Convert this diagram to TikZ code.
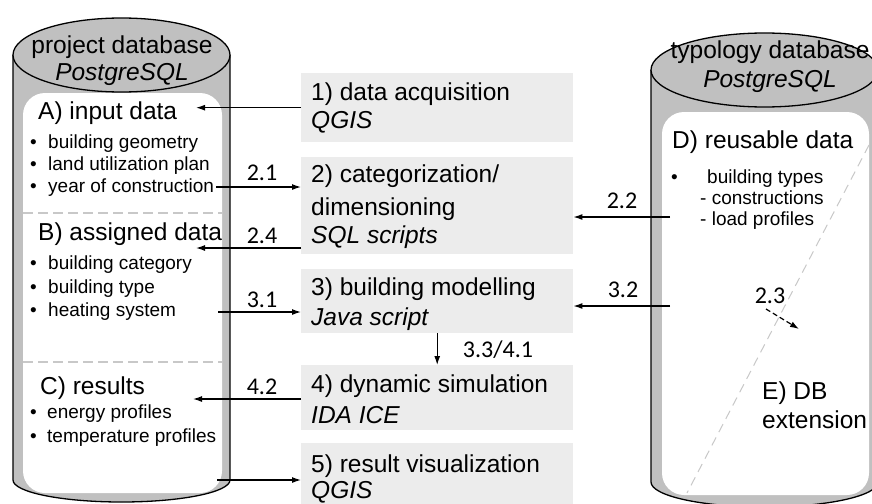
\documentclass[tikz,border=0pt]{standalone}
\usepackage{fontspec}
\setmainfont{Liberation Sans}
\newfontfamily\numfont{Carlito}
\usetikzlibrary{arrows.meta}
\definecolor{dbgray}{RGB}{192,192,192}
\definecolor{boxgray}{RGB}{236,236,236}
\definecolor{sepgray}{RGB}{200,200,200}

\begin{document}
\begin{tikzpicture}[x=1pt,y=-1pt,
  big/.style={font=\fontsize{24.5}{28}\selectfont, inner sep=0pt, anchor=base west},
  bigc/.style={big, anchor=base},
  small/.style={font=\fontsize{19}{22}\selectfont, inner sep=0pt, anchor=base west},
  lbl/.style={font=\numfont\fontsize{24}{28}\selectfont, inner sep=0pt, anchor=base},
  stepbox/.style={fill=boxgray, draw=none, inner sep=0pt, anchor=north west, minimum width=272pt},
  flow/.style={-{Latex[length=9pt,width=6pt]}, line width=1.2pt},
  outline/.style={line width=1.3pt},
  sep/.style={sepgray, line width=1.5pt, dash pattern=on 10pt off 5pt}]
\useasboundingbox (0,0) rectangle (872,503);

% project database cylinder
\fill[dbgray] (13,55) rectangle (230,480);
\fill[dbgray] (121.5,480) ellipse [x radius=108.5, y radius=22];
\draw[outline] (13,55) -- (13,480) .. controls (13,492.15) and (61.6,502) .. (121.5,502)
  .. controls (181.4,502) and (230,492.15) .. (230,480) -- (230,55);
\fill[white, rounded corners=22pt] (23,93) rectangle (222,493);
\filldraw[fill=dbgray, outline] (121.5,55) ellipse [x radius=108.5, y radius=37];
\draw[sep] (23,213) -- (222,213);
\draw[sep] (23,362) -- (222,362);

% typology database cylinder
\fill[dbgray] (651,70) rectangle (878,482);
\fill[dbgray] (764.5,482) ellipse [x radius=113.5, y radius=25];
\draw[outline] (651,70) -- (651,482) .. controls (651,495.8) and (701.8,507) .. (764.5,507)
  .. controls (827.2,507) and (878,495.8) .. (878,482) -- (878,70);
\fill[white, rounded corners=22pt] (662,112) rectangle (869,495);
\filldraw[fill=dbgray, outline] (764.5,70) ellipse [x radius=113.5, y radius=37];
\draw[sepgray, line width=1pt, dash pattern=on 9pt off 6pt] (869,145) -- (687,493);

% process steps
\node[stepbox, minimum height=69pt] (b1) at (301,73) {};
\node[stepbox, minimum height=97pt] (b2) at (301,157) {};
\node[stepbox, minimum height=64pt] (b3) at (301,269) {};
\node[stepbox, minimum height=65pt] (b4) at (301,365) {};
\node[stepbox, minimum height=62pt] (b5) at (301,443) {};

\node[big] (t1a) at (311,100) {1) data acquisition};
\node[big] (t1b) at (311,128) {\itshape QGIS};
\node[big] (t2a) at (311,182) {2) categorization/};
\node[big] (t2b) at (311,215) {dimensioning};
\node[big] (t2c) at (311,243) {\itshape SQL scripts};
\node[big] (t3a) at (311,295) {3) building modelling};
\node[big] (t3b) at (311,325) {\itshape Java script};
\node[big] (t4a) at (311,392) {4) dynamic simulation};
\node[big] (t4b) at (311,423) {\itshape IDA ICE};
\node[big] (t5a) at (311,472) {5) result visualization};
\node[big] (t5b) at (311,498) {\itshape QGIS};

% project database contents
\node[bigc] (pdb) at (122,53) {project database};
\node[bigc] (pdbs) at (122,81) {\itshape PostgreSQL};
\node[big] (hA) at (38,119) {A) input data};
\node[small] (a1) at (30,148) {\makebox[18pt][l]{•}building geometry};
\node[small] (a2) at (30,170) {\makebox[18pt][l]{•}land utilization plan};
\node[small] (a3) at (30,192) {\makebox[18pt][l]{•}year of construction};
\node[big] (hB) at (38,240) {B) assigned data};
\node[small] (bb1) at (30,269) {\makebox[18pt][l]{•}building category};
\node[small] (bb2) at (30,293) {\makebox[18pt][l]{•}building type};
\node[small] (bb3) at (30,316) {\makebox[18pt][l]{•}heating system};
\node[big] (hC) at (40,394) {C) results};
\node[small] (c1) at (30,418) {\makebox[17pt][l]{•}energy profiles};
\node[small] (c2) at (30,442) {\makebox[17pt][l]{•}temperature profiles};

% typology database contents
\node[bigc] (tdb) at (770,59) {typology database};
\node[bigc] (tdbs) at (770,87) {\itshape PostgreSQL};
\node[big] (hD) at (672,148) {D) reusable data};
\node[small] (d1) at (671,183) {\makebox[36pt][l]{•}building types};
\node[small] (d2) at (700,204) {- constructions};
\node[small] (d3) at (700,225) {- load profiles};
\node[big] (hE1) at (762,399) {E) DB};
\node[big] (hE2) at (762,428) {extension};

% connector end points
\coordinate (tA) at (196,108);
\coordinate (s21) at (216,187);
\coordinate (t24) at (196,248);
\coordinate (s31) at (218,312);
\coordinate (t42) at (193,399);
\coordinate (s5) at (217,480);
\coordinate (s22) at (670,217);
\coordinate (s32) at (670,306);
\coordinate (s23) at (766,309);
\coordinate (t23) at (799,329);

% data flows
\draw[flow] (b1.west) -- (b1.west -| tA);
\draw[flow] (s21) -- (s21 -| b2.west);
\draw[flow] (t24 -| b2.west) -- (t24);
\draw[flow] (s31) -- (s31 -| b3.west);
\draw[flow] (t42 -| b4.west) -- (t42);
\draw[flow] (s5) -- (s5 -| b5.west);
\draw[flow] (s22) -- (s22 -| b2.east);
\draw[flow] (s32) -- (s32 -| b3.east);
\draw[flow] (b3.south) -- (b4.north);
\draw[flow, dash pattern=on 5pt off 3pt] (s23) -- (t23);

% flow labels
\node[lbl] (l21) at (262,180) {2.1};
\node[lbl] (l24) at (262,243) {2.4};
\node[lbl] (l31) at (262,307) {3.1};
\node[lbl] (l42) at (262,394) {4.2};
\node[lbl] (l22) at (622,208) {2.2};
\node[lbl] (l32) at (623,297) {3.2};
\node[lbl] (l23) at (770,303) {2.3};
\node[lbl] (l33) at (498,357) {3.3/4.1};
\end{tikzpicture}
\end{document}
